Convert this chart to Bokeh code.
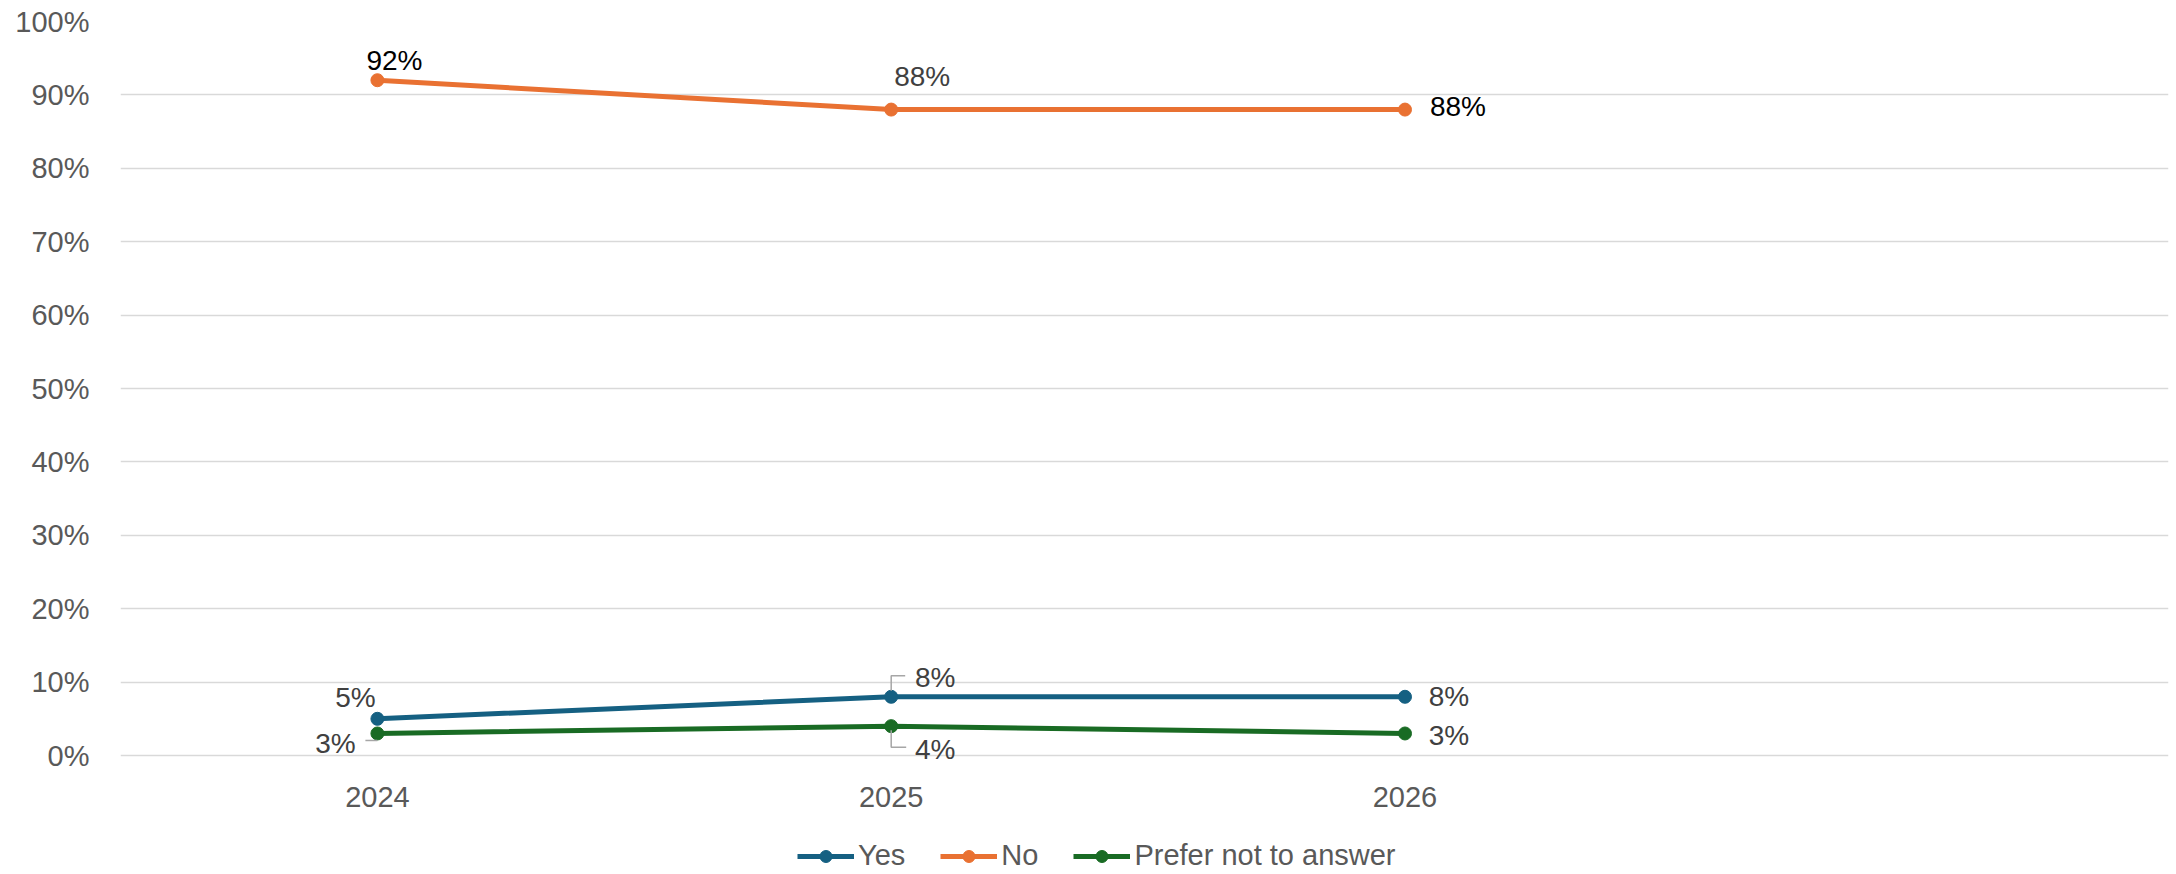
from bokeh.plotting import figure
from bokeh.models import (Range1d, FixedTicker, PrintfTickFormatter, Legend, LegendItem,
                          ColumnDataSource, LabelSet)
from bokeh.layouts import column
from bokeh.embed import file_html
from bokeh.resources import INLINE
from bokeh.core.properties import value

# ---- data ----
years = ["2024", "2025", "2026"]
yes = [5, 8, 8]
no = [92, 88, 88]
prefer = [3, 4, 3]
series_names = ["Yes", "No", "Prefer not to answer"]
y_ticks = [0, 10, 20, 30, 40, 50, 60, 70, 80, 90, 100]

# ---- styles ----
colors = ["#156082", "#E97132", "#196B24"]
FONT = "Liberation Sans"
W = 2170
H_MAIN, H_LEG = 828, 44
BL, BR, BT, BB = 120, 2, 21, 53
FRAME_W, FRAME_H = W - BL - BR, H_MAIN - BT - BB
PX_PER_PCT = 7.34
Y_START = 100 - FRAME_H / PX_PER_PCT
X_END = 3.986

# label placement (pixels: right, up) per series per point
label_offsets = [
    [(-22, 21), (44, 19), (44, 0)],
    [(17, 20), (31, 33), (53, 3)],
    [(-42, -10), (44, -23), (44, -2)],
]
label_colors = [
    ["#404040", "#404040", "#404040"],
    ["#000000", "#404040", "#000000"],
    ["#404040", "#404040", "#404040"],
]
# leader lines (pixel offsets from point) : (series, point index, path)
leaders = [
    (0, 1, [(0, 6), (0, 21), (14, 21)]),
    (2, 1, [(0, -4), (0, -21), (15, -21)]),
    (2, 0, [(-12, -7), (0, -7)]),
]

p = figure(width=W, height=H_MAIN,
           x_range=Range1d(0, X_END), y_range=Range1d(Y_START, 100),
           output_backend="svg", toolbar_location=None,
           min_border_left=BL, min_border_right=BR, min_border_top=BT,
           min_border_bottom=BB, outline_line_color=None,
           background_fill_color="white", border_fill_color="white")

xs = [i + 0.5 for i in range(len(years))]

# grid
p.xgrid.grid_line_color = None
p.ygrid.grid_line_color = "#D9D9D9"
p.ygrid.grid_line_width = 1.5

# axes
p.yaxis.ticker = FixedTicker(ticks=y_ticks)
p.yaxis.formatter = PrintfTickFormatter(format="%d%%")
p.xaxis.ticker = FixedTicker(ticks=xs)
p.xaxis.major_label_overrides = {x: y for x, y in zip(xs, years)}
for ax in (p.xaxis, p.yaxis):
    ax.axis_line_color = None
    ax.major_tick_line_color = None
    ax.minor_tick_line_color = None
    ax.major_label_text_font = FONT
    ax.major_label_text_font_size = "29px"
    ax.major_label_text_color = "#595959"
p.yaxis.major_label_standoff = 25
p.xaxis.major_label_standoff = 5

px_x = X_END / FRAME_W
px_y = 1.0 / PX_PER_PCT

# ---- legend strip (shares the series sources; its ranges keep the lines out of view) ----
lf = figure(width=W, height=H_LEG, x_range=Range1d(100, 101), y_range=Range1d(100, 101),
            output_backend="svg", toolbar_location=None,
            x_axis_location=None, y_axis_location=None,
            min_border=0, outline_line_color=None,
            background_fill_color="white", border_fill_color="white")
lf.grid.visible = False
items = []

for s, (name, vals, col) in enumerate(zip(series_names, [yes, no, prefer], colors)):
    src = ColumnDataSource(dict(x=xs, y=vals))
    p.line("x", "y", source=src, line_color=col, line_width=5)
    p.scatter("x", "y", source=src, size=13, fill_color=col, line_color=col)
    r1 = lf.line("x", "y", source=src, line_color=col, line_width=5)
    r2 = lf.scatter("x", "y", source=src, size=13, fill_color=col, line_color=col)
    items.append(LegendItem(label=name, renderers=[r1, r2]))
    lsrc = ColumnDataSource(dict(
        x=xs, y=vals, t=[f"{v}%" for v in vals],
        xo=[o[0] for o in label_offsets[s]],
        yo=[o[1] for o in label_offsets[s]],
        c=label_colors[s]))
    p.add_layout(LabelSet(x="x", y="y", text="t", source=lsrc,
                          x_offset="xo", y_offset="yo", text_color="c",
                          text_font=value(FONT), text_font_size="28px",
                          text_align="center", text_baseline="middle"))

vals_all = [yes, no, prefer]
lx, ly = [], []
for s, i, path in leaders:
    lx.append([xs[i] + dx * px_x for dx, dy in path])
    ly.append([vals_all[s][i] + dy * px_y for dx, dy in path])
p.multi_line(lx, ly, line_color="#A6A6A6", line_width=1.5)

legend = Legend(items=items, orientation="horizontal", location=(677, 0),
                label_text_font=FONT, label_text_font_size="29px",
                label_text_color="#595959", glyph_width=57, glyph_height=30,
                label_standoff=4, spacing=35, padding=0, margin=0,
                border_line_color=None, background_fill_alpha=0)
lf.add_layout(legend, "center")

open("out.html", "w").write(file_html(column(p, lf, spacing=0), INLINE))
